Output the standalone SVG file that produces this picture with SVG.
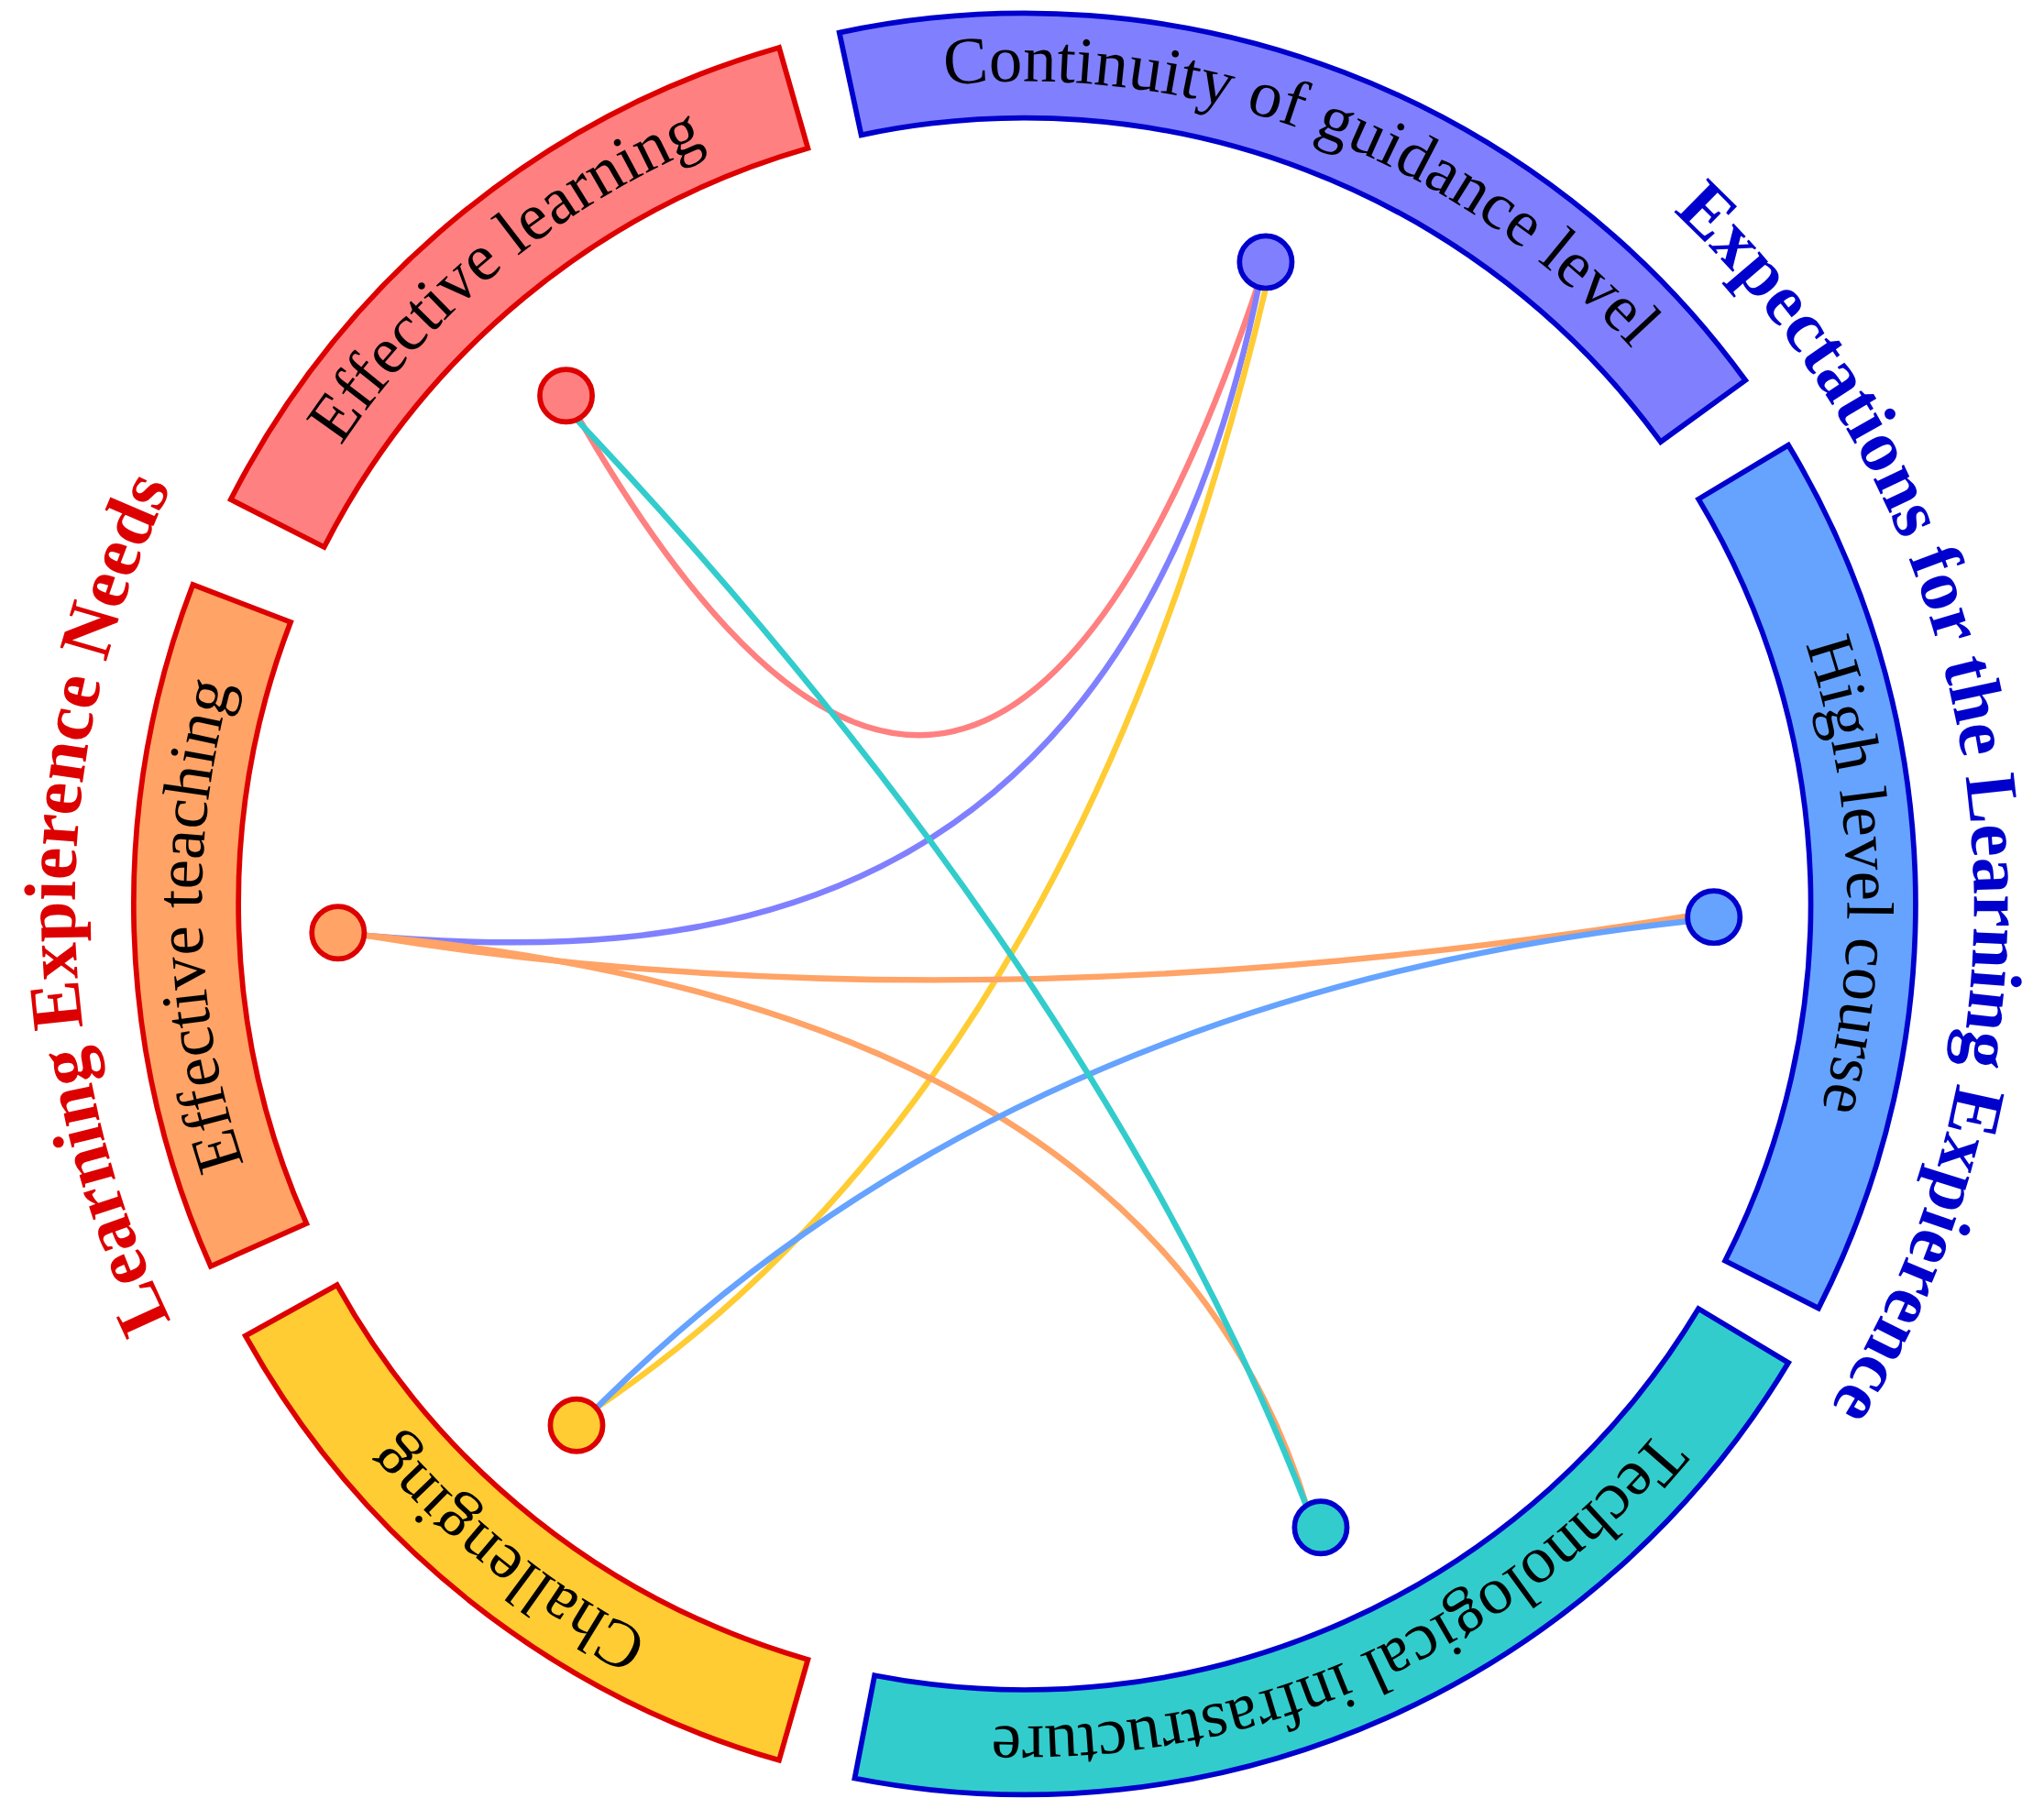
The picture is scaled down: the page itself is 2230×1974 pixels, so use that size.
<svg xmlns="http://www.w3.org/2000/svg" width="2230" height="1974" viewBox="0 0 2230 1974">
<style>
.band{stroke-width:4;stroke-linejoin:miter}
.lbl{font-family:"Liberation Serif",serif;font-size:51px;fill:#000}
.ttl{font-family:"Liberation Serif",serif;font-size:56px;font-weight:bold}
.edge{fill:none;stroke-width:4.5;stroke-linecap:round}
.node{stroke-width:4}
</style>
<defs>
<path id="t1" d="M222.5,404.9 A628,628 0 0 1 608.9,86.3"/>
<path id="t2" d="M651.4,75.8 A628,628 0 0 1 1290.1,320.9"/>
<path id="t3" d="M1320.3,366.6 A628,628 0 0 1 1341.5,975.1"/>
<path id="t4" d="M1320.3,1013.4 A628,628 0 0 1 662.2,1306.4"/>
<path id="t5" d="M608.9,1293.7 A628,628 0 0 1 232.8,994.5"/>
<path id="t6" d="M208.3,945.4 A628,628 0 0 1 195.7,464.9"/>
<path id="tl" d="M155.2,1054.0 A725,725 0 0 1 155.2,326.0"/>
<path id="tr" d="M1197.9,97.1 A725,725 0 0 1 1337.4,1156.0"/>
</defs>
<rect width="2230" height="1974" fill="#fff"/>
<g transform="scale(1.4295)">
<g id="connectors">
<path class="edge" stroke="#ff8080" d="M432,302 Q745,862 962,212"/>
<path class="edge" stroke="#8080ff" d="M962,212 C860,720 520,735 278,714"/>
<path class="edge" stroke="#ffcc33" d="M966,220 Q821,832 450,1078"/>
<path class="edge" stroke="#ffa366" d="M278,714 Q735,789 1290,699"/>
<path class="edge" stroke="#ffa366" d="M278,714 Q881,768 998,1152"/>
<path class="edge" stroke="#66a3ff" d="M1290,703 Q768,760 452,1078"/>
<path class="edge" stroke="#33cccc" d="M438,318 Q840,745 998,1152"/>
</g>
<g id="effective-learning">
<path class="band" fill="#ff8080" stroke="#dd0000" d="M176.1,381.3 A680,680 0 0 1 594.6,36.3 L616.6,113.2 A600,600 0 0 0 247.4,417.6 Z"/>
<text class="lbl"><textPath href="#t1" startOffset="50%" text-anchor="middle">Effective learning</textPath></text>
<circle class="node" cx="432" cy="302" r="20" fill="#ff8080" stroke="#dd0000"/>
</g>
<g id="continuity">
<path class="band" fill="#8080ff" stroke="#0000cc" d="M640.6,24.9 A680,680 0 0 1 1332.1,290.3 L1267.4,337.3 A600,600 0 0 0 657.3,103.1 Z"/>
<text class="lbl"><textPath href="#t2" startOffset="50%" text-anchor="middle">Continuity of guidance level</textPath></text>
<circle class="node" cx="966" cy="200" r="20" fill="#8080ff" stroke="#0000cc"/>
</g>
<g id="high-level">
<path class="band" fill="#66a3ff" stroke="#0000cc" d="M1364.9,339.8 A680,680 0 0 1 1387.9,998.7 L1316.6,962.4 A600,600 0 0 0 1296.3,381.0 Z"/>
<text class="lbl"><textPath href="#t3" startOffset="50%" text-anchor="middle">High level course</textPath></text>
<circle class="node" cx="1308" cy="700" r="20" fill="#66a3ff" stroke="#0000cc"/>
</g>
<g id="technological">
<path class="band" fill="#33cccc" stroke="#0000cc" d="M1364.9,1040.2 A680,680 0 0 1 652.3,1357.5 L667.5,1278.9 A600,600 0 0 0 1296.3,999.0 Z"/>
<text class="lbl"><textPath href="#t4" startOffset="50%" text-anchor="middle">Technological infrastructure</textPath></text>
<circle class="node" cx="1008" cy="1166" r="20" fill="#33cccc" stroke="#0000cc"/>
</g>
<g id="challenging">
<path class="band" fill="#ffcc33" stroke="#dd0000" d="M594.6,1343.7 A680,680 0 0 1 187.3,1019.7 L257.2,980.9 A600,600 0 0 0 616.6,1266.8 Z"/>
<text class="lbl"><textPath href="#t5" startOffset="50%" text-anchor="middle">Challenging</textPath></text>
<circle class="node" cx="440" cy="1088" r="20" fill="#ffcc33" stroke="#dd0000"/>
</g>
<g id="effective-teaching">
<path class="band" fill="#ffa366" stroke="#dd0000" d="M160.8,966.6 A680,680 0 0 1 147.2,446.3 L221.8,474.9 A600,600 0 0 0 233.9,934.0 Z"/>
<text class="lbl"><textPath href="#t6" startOffset="50%" text-anchor="middle">Effective teaching</textPath></text>
<circle class="node" cx="258" cy="712" r="20" fill="#ffa366" stroke="#dd0000"/>
</g>
<g id="titles">
<text class="ttl" fill="#dd0000"><textPath href="#tl" startOffset="50%" text-anchor="middle">Learning Expierence Needs</textPath></text>
<text class="ttl" fill="#0000cc"><textPath href="#tr" startOffset="50%" text-anchor="middle">Expectations for the Learning Expierence</textPath></text>
</g>
</g>
</svg>
